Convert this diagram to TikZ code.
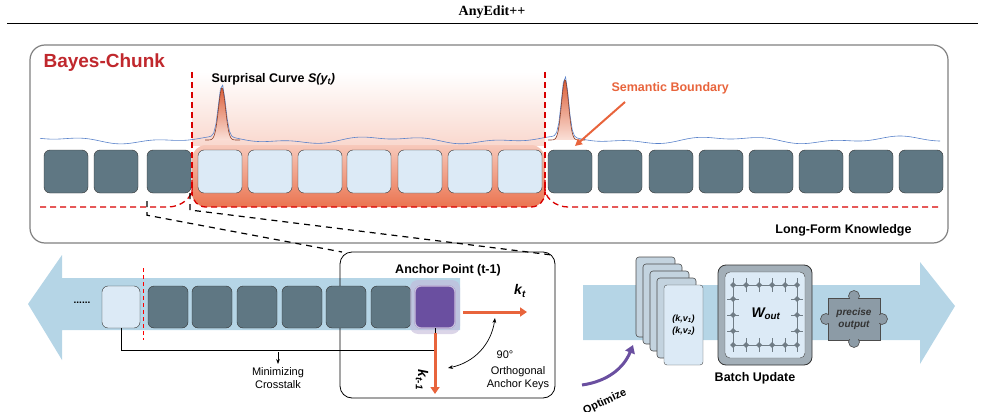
\documentclass[tikz,border=0pt]{standalone}
\usepackage{fontspec}
\setmainfont{Liberation Serif}
\setsansfont{Liberation Sans}
\usetikzlibrary{positioning,arrows.meta,shapes.geometric}
\definecolor{chunkdark}{HTML}{5F7783}
\definecolor{chunklight}{HTML}{DCEAF6}
\definecolor{bandblue}{HTML}{B5D5E6}
\definecolor{bayesred}{HTML}{C0282D}
\definecolor{surpr}{HTML}{E8643C}
\definecolor{anchorpurple}{HTML}{6A4FA0}
\definecolor{puzzlegray}{HTML}{8C9BA6}
\tikzset{
  chunk/.style={draw=black!80,fill=chunkdark,rounded corners=6pt,minimum width=44pt,minimum height=43pt,inner sep=0pt},
  lchunk/.style={chunk,fill=chunklight},
  schunk/.style={chunk,minimum width=40pt,minimum height=42pt},
  lbl/.style={font=\sffamily\bfseries\fontsize{12.5}{14}\selectfont},
  note/.style={font=\sffamily\fontsize{11}{13}\selectfont,align=center},
  redline/.style={red!85!black,line width=1.3pt,dash pattern=on 6pt off 4pt},
  karrow/.style={surpr,line width=3pt,-{Triangle[length=7pt,width=9pt]}},
}
\begin{document}
\begin{tikzpicture}[x=1pt,y=-1pt]
        \useasboundingbox (0,0) rectangle (985,412);
        % title
        \node[font=\bfseries\fontsize{14}{16}\selectfont] (title) at (492,12) {AnyEdit++};
        \draw[line width=1pt] (7,24) -- (978,24);
        % top panel
        \draw[gray,line width=1.2pt,rounded corners=15pt] (30,45) rectangle (948,243);
        \node[font=\sffamily\bfseries\fontsize{19}{21}\selectfont,text=bayesred,anchor=west] (bayes) at (40,63) {Bayes-Chunk};
        \shade[top color=white,bottom color=surpr!25] (192,72) rectangle (545,145);
        \shade[top color=surpr!35,bottom color=surpr!90,rounded corners=14pt] (192,145) -- (192,207) -- (545,207) -- (545,145) -- cycle;
        % surprisal peaks
        \shade[top color=surpr!95!black,bottom color=surpr!20] plot[domain=200:245,samples=60] (\x,{140-52*exp(-((\x-222)/5)^2)}) -- cycle;
        \shade[top color=surpr!95!black,bottom color=surpr!20] plot[domain=545:590,samples=60] (\x,{140-60*exp(-((\x-565)/5)^2)}) -- cycle;
        \draw[cyan!40!blue!70,line width=0.6pt] plot[domain=40:940,samples=400]
          (\x,{140-2.5*sin(\x*2.1)-1.5*sin(\x*5.3)-52*exp(-(min(abs(\x-222),30)/5)^2)-60*exp(-(min(abs(\x-565),30)/5)^2)});
        \draw[surpr!60!black,line width=0.6pt] plot[domain=205:240,samples=60] (\x,{140-52*exp(-((\x-222)/5)^2)});
        \draw[surpr!60!black,line width=0.6pt] plot[domain=548:585,samples=60] (\x,{140-60*exp(-((\x-565)/5)^2)});
        \node[lbl,anchor=west] (curve) at (208,79) {Surprisal Curve \textit{S(y\textsubscript{t})}};
        % chunks
        \foreach \i/\x in {1/66,2/116,3/169}
          \node[chunk] (c\i) at (\x,171.5) {};
        \foreach \i/\x in {4/220,5/270,6/320,7/369,8/420,9/470,10/520}
          \node[lchunk] (c\i) at (\x,171.5) {};
        \foreach \i/\x in {11/570,12/620,13/671,14/721,15/771,16/821,17/871,18/921}
          \node[chunk] (c\i) at (\x,171.5) {};
        \draw[redline] (192,72) -- (192,195);
        \draw[redline] (545,72) -- (545,195);
        \draw[redline] (40,207) -- (168,207) to[out=0,in=-80] (192,185);
        \draw[redline,rounded corners=14pt] (192,180) -- (192,207) -- (545,207) -- (545,180);
        \draw[redline] (545,185) to[out=-100,in=180] (568,207) -- (940,207);
        \node[lbl,text=surpr,anchor=west] (boundary) at (608,88) {Semantic Boundary};
        \draw[surpr,line width=2pt,-{Triangle[length=7pt,width=7pt]}] (625,102) -- (575,146);
        \node[lbl,anchor=east] (longform) at (915,230) {Long-Form Knowledge};
        % zoom lines
        \draw[line width=1.2pt,dash pattern=on 6pt off 5pt] (c3.south) ++(-22,8) coordinate (z1) -- ++(0,14) -- (342,252);
        \draw[line width=1.2pt,dash pattern=on 6pt off 5pt] (190,193) -- (190,210) -- (552,255);
        % bottom-left band
        \fill[bandblue] (460,278) -- (62,278) -- (62,255) -- (28,304) -- (62,360) -- (62,330) -- (460,330) -- cycle;
        \draw[rounded corners=12pt,line width=0.8pt] (340,252) rectangle (555,398);
        \node[lbl] (anchorpt) at (448,270) {Anchor Point (t-1)};
        \node[font=\sffamily\bfseries] (dots) at (82,303) {......};
        \node[lchunk,minimum width=38pt,minimum height=42pt] (b0) at (121,307) {};
        \foreach \i/\x in {1/168,2/212,3/257,4/302,5/346,6/391}
          \node[schunk] (b\i) at (\x,307) {};
        \fill[anchorpurple!40,opacity=0.6,rounded corners=8pt] (410,280) rectangle (460,334);
        \node[schunk,fill=anchorpurple,draw=anchorpurple!60,double=white!70!anchorpurple] (purp) at (435,307) {};
        \draw[red,line width=0.9pt,dash pattern=on 4pt off 3pt] (143,268) -- (143,340);
        % crosstalk bracket
        \draw[line width=0.8pt] (b0.south) -- ++(0,22) coordinate (br1) -| (purp.south);
        \coordinate (brmid) at (278,352);
        \draw[line width=0.8pt,-{Stealth[length=5pt]}] (brmid) -- ++(0,12);
        \node[note,below=12pt of brmid] (cross) {Minimizing\\Crosstalk};
        % anchor keys
        \draw[karrow] (463,312) -- (527,312) coordinate (kt);
        \node[font=\sffamily\bfseries\itshape\fontsize{14}{16}\selectfont] (ktl) at (520,291) {k\textsubscript{t}};
        \draw[karrow] (435,333) -- (435,394) coordinate (kt1);
        \node[font=\sffamily\bfseries\itshape\fontsize{14}{16}\selectfont,rotate=-90] (kt1l) at (422,380) {k\textsubscript{t-1}};
        \draw[{Stealth[length=5pt]}-{Stealth[length=5pt]},line width=0.7pt] (448,368) to[bend right=35] (495,318);
        \node[note] (deg) at (505,355) {90°};
        \node[note] (orth) at (518,378) {Orthogonal\\Anchor Keys};
        % right band
        \fill[bandblue] (583,285) -- (920,285) -- (920,262) -- (955,306) -- (920,364) -- (920,340) -- (583,340) -- cycle;
        % optimize
        \draw[anchorpurple,line width=3pt,-{Triangle[length=8pt,width=10pt]}] (582,385) to[bend right=30] (633,345);
        \node[font=\sffamily\bfseries\fontsize{11}{13}\selectfont,rotate=25] (opt) at (605,402) {Optimize};
        % key-value stack
        \foreach \d in {4,3,2,1}
          \draw[fill=chunklight!80!chunkdark,draw=black!70,rounded corners=3pt,line width=0.6pt]
            (664-7*\d,285-7*\d) rectangle (703-7*\d,365-7*\d);
        \node[draw=black!70,fill=chunklight,rounded corners=3pt,minimum width=39pt,minimum height=80pt,inner sep=0pt,
          font=\sffamily\bfseries\itshape\fontsize{9}{12}\selectfont,align=center] (kv) at (683.5,325)
          {(k,v\textsubscript{1})\\(k,v\textsubscript{2})};
        % W_out
        \node[draw=black!80,fill=puzzlegray!80,rounded corners=8pt,minimum width=94pt,minimum height=100pt,line width=0.8pt] (wbox) at (765,315) {};
        \node[draw=black!70,fill=chunklight,rounded corners=5pt,minimum width=80pt,minimum height=86pt] (winner) at (765,315) {};
        \foreach \yy in {285,345} \draw[puzzlegray!80!black,line width=0.8pt] (732,\yy) -- (798,\yy);
        \foreach \xx in {733,797} \draw[puzzlegray!80!black,line width=0.8pt] (\xx,282) -- (\xx,348);
        \foreach \xx in {733,746,759,772,785,797} {
          \draw[puzzlegray!80!black,line width=0.7pt] (\xx,278) -- (\xx,292) (\xx,338) -- (\xx,352);
          \fill[puzzlegray!80!black] (\xx,285) ++(-3,0) -- ++(3,-3) -- ++(3,3) -- ++(-3,3) -- cycle;
          \fill[puzzlegray!80!black] (\xx,345) ++(-3,0) -- ++(3,-3) -- ++(3,3) -- ++(-3,3) -- cycle;
        }
        \foreach \yy in {299,315,331} {
          \draw[puzzlegray!80!black,line width=0.7pt] (727,\yy) -- (739,\yy) (791,\yy) -- (803,\yy);
          \fill[puzzlegray!80!black] (733,\yy) ++(-3,0) -- ++(3,-3) -- ++(3,3) -- ++(-3,3) -- cycle;
          \fill[puzzlegray!80!black] (797,\yy) ++(-3,0) -- ++(3,-3) -- ++(3,3) -- ++(-3,3) -- cycle;
        }
        \node[font=\sffamily\bfseries\itshape\fontsize{14}{16}\selectfont] (wout) at (766,314) {W\textsubscript{out}};
        \node[lbl] (batch) at (755,378) {Batch Update};
        % puzzle piece
        \filldraw[fill=puzzlegray,draw=black!70,line width=0.6pt] (828,298) rectangle (880,340);
        \filldraw[fill=puzzlegray,draw=black!70,line width=0.6pt] (854,296) circle (5.5) (854,342) circle (5.5) (826,319) circle (5.5) (882,319) circle (5.5);
        \fill[puzzlegray] (829,299) rectangle (879,339);
        \node[font=\sffamily\bfseries\itshape\fontsize{10}{12}\selectfont,align=center,text=black!80] (precise) at (854,319) {precise\\output};
\end{tikzpicture}
\end{document}
